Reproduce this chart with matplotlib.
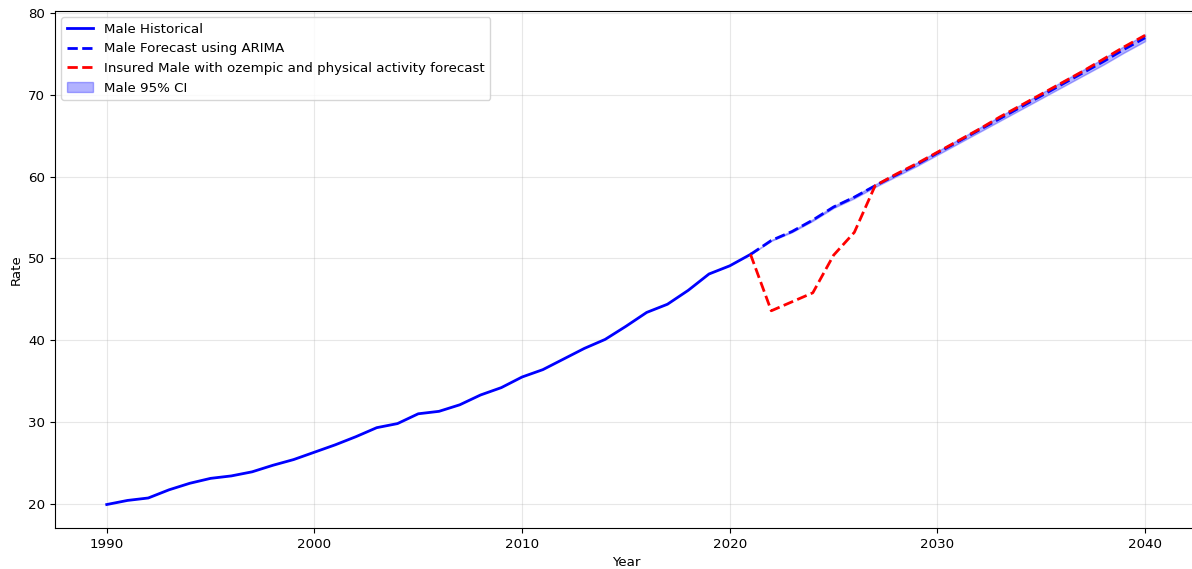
import matplotlib
matplotlib.use("Agg")
import matplotlib.pyplot as plt
import numpy as np

plt.rcParams['font.size'] = 9.6

# historical male rate
hist_years = list(range(1990, 2022))
hist_rate = [19.9, 20.4, 20.7, 21.7, 22.5, 23.1, 23.4, 23.9, 24.7, 25.4,
             26.3, 27.2, 28.2, 29.3, 29.8, 31.0, 31.3, 32.1, 33.3, 34.2,
             35.5, 36.4, 37.7, 39.0, 40.1, 41.7, 43.4, 44.4, 46.1, 48.1,
             49.1, 50.5]

# ARIMA forecast (starts at last historical point)
fc_years = list(range(2021, 2041))
fc_rate = [50.5, 52.2, 53.3, 54.7, 56.3, 57.5, 58.9, 60.2, 61.5, 62.9,
           64.3, 65.7, 67.1, 68.5, 69.9, 71.3, 72.7, 74.1, 75.6, 77.0]
ci_halfwidth = [0.0, 0.05, 0.08, 0.1, 0.12, 0.14, 0.16, 0.18, 0.2, 0.22,
                0.24, 0.26, 0.28, 0.3, 0.32, 0.34, 0.36, 0.38, 0.4, 0.42]

# insured male with ozempic + physical activity
ins_rate = [50.5, 43.6, 44.7, 45.8, 50.4, 53.2, 58.9, 60.3, 61.6, 63.0,
            64.4, 65.8, 67.3, 68.7, 70.1, 71.5, 72.9, 74.4, 75.9, 77.3]

fc = np.array(fc_rate)
hw = np.array(ci_halfwidth)

fig, ax = plt.subplots(figsize=(11.92, 5.69), dpi=100)
ax.plot(hist_years, hist_rate, 'b-', lw=2, label='Male Historical')
ax.plot(fc_years, fc_rate, 'b--', lw=2, label='Male Forecast using ARIMA')
ax.plot(fc_years, ins_rate, 'r--', lw=2,
        label='Insured Male with ozempic and physical activity forecast')
ax.fill_between(fc_years, fc - hw, fc + hw, color='b', alpha=0.3, label='Male 95% CI')

ax.set_xlabel('Year')
ax.set_ylabel('Rate')
ax.grid(True, alpha=0.3)
ax.legend(loc='upper left')

# the original image is cropped just inside the right spine
plt.subplots_adjust(left=0.046, right=1.0042, top=0.981, bottom=0.072)
plt.savefig('out.png')
